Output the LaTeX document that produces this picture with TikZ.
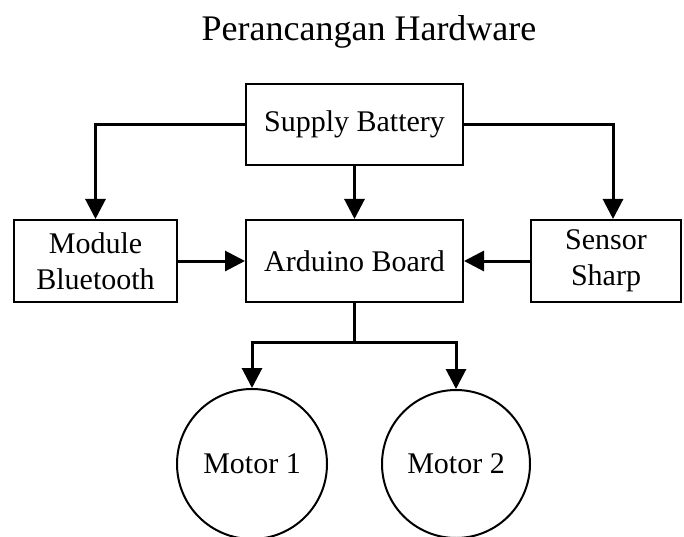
\documentclass[tikz,border=0pt]{standalone}
\usepackage{fontspec}
\setmainfont{Liberation Serif}
\usetikzlibrary{arrows.meta,calc}
\begin{document}
\begin{tikzpicture}[x=1pt,y=-1pt,
  blk/.style={draw,line width=2pt,rectangle,inner sep=0pt,align=center,
    font=\fontsize{30}{36}\selectfont},
  mot/.style={draw,line width=2pt,circle,inner sep=0pt,
    font=\fontsize{30}{36}\selectfont},
  arr/.style={line width=3pt,-{Triangle[width=20pt,length=20pt]}},
  lnk/.style={line width=3pt}]
\useasboundingbox (0,0) rectangle (684,537);
\node[anchor=base,font=\fontsize{36}{42}\selectfont] (title) at (369,41) {Perancangan Hardware};
\node[blk,minimum width=217pt,minimum height=81pt] (sb) at (354.5,124.5) {Supply Battery};
\node[blk,minimum width=163pt,minimum height=82pt] (mb) at (95.5,261) {Module\\Bluetooth};
\node[blk,minimum width=217pt,minimum height=82pt] (ab) at (354.5,261) {Arduino Board};
\node[blk,minimum width=150pt,minimum height=82pt] (ss) at (606,261) {Sensor\\Sharp};
\node[mot,minimum size=150pt] (m1) at (252,464) {Motor 1};
\node[mot,minimum size=148pt] (m2) at (456,464) {Motor 2};
\coordinate (j) at (354.5,342);
\draw[arr] (sb.west) -| (mb.north);
\draw[arr] (sb.south) -- (ab.north);
\draw[arr] (sb.east) -| ([xshift=7pt]ss.north);
\draw[arr] (mb.east) -- (ab.west);
\draw[arr] (ss.west) -- (ab.east);
\draw[lnk] (ab.south) -- (j);
\draw[arr] (j) -| (m1.north);
\draw[arr] (j) -| (m2.north);
\end{tikzpicture}
\end{document}
